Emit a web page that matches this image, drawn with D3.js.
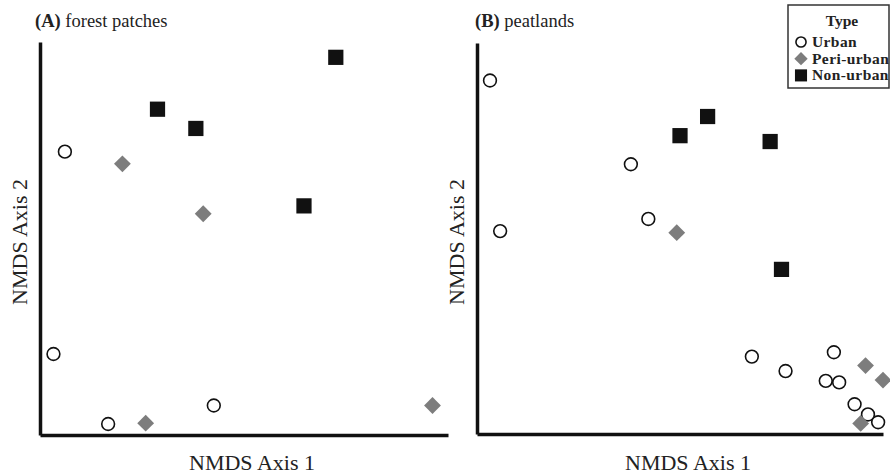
<!DOCTYPE html>
<html>
<head>
<meta charset="utf-8">
<script src="https://cdn.jsdelivr.net/npm/d3@7"></script>
<style>
  body { margin: 0; background: #fff; }
  text { font-family: "Liberation Serif", "Times New Roman", serif; }
</style>
</head>
<body>
<svg width="890" height="475"></svg>
<script>
// NMDS scores (axis units 0-100, no ticks shown)
var forestUrban    = [[6.1, 72.1], [3.3, 20.6], [16.7, 2.8], [42.6, 7.5]];
var forestPeri     = [[20.2, 69.0], [40.0, 56.3], [25.9, 3.0], [96.2, 7.5]];
var forestNonUrban = [[72.5, 96.1], [28.8, 82.9], [38.2, 78.0], [64.7, 58.3]];

var peatUrban    = [[3.2, 90.4], [5.7, 51.9], [37.9, 69.0], [42.2, 55.0], [67.7, 19.8], [76.0, 16.1],
                    [87.9, 20.9], [85.9, 13.6], [89.2, 13.2], [93.0, 7.6], [96.3, 5.0], [98.8, 3.0]];
var peatPeri     = [[49.2, 51.5], [95.7, 17.5], [100, 13.8], [94.5, 2.7]];
var peatNonUrban = [[50.0, 76.3], [56.8, 81.2], [72.2, 74.8], [75.0, 42.1]];

var types = ["Urban", "Peri-urban", "Non-urban"];

var svg = d3.select("svg");

// draws one marker of the given type at (cx, cy), s = marker width
function marker(g, type, cx, cy, s) {
  if (type == "Urban") {
    g.append("circle").attr("cx", cx).attr("cy", cy).attr("r", s * 0.44)
      .attr("fill", "#fff").attr("stroke", "#111").attr("stroke-width", 1.6);
  } else if (type == "Peri-urban") {
    var h = s * 0.58;
    g.append("path")
      .attr("d", d3.line()([[cx, cy - h], [cx + h, cy], [cx, cy + h], [cx - h, cy]]) + "Z")
      .attr("fill", "#7d7d7d");
  } else {
    var w = s * 1.05;
    g.append("rect").attr("x", cx - w / 2).attr("y", cy - w / 2)
      .attr("width", w).attr("height", w).attr("fill", "#111");
  }
}

function drawPanel(opt) {
  var x = d3.scaleLinear().domain([0, 100]).range([opt.left, opt.right]);
  var y = d3.scaleLinear().domain([0, 100]).range([opt.bottom, opt.top]);
  var g = svg.append("g");

  // axes: plain thick lines, no ticks
  g.append("g").attr("transform", "translate(0," + opt.bottom + ")")
    .call(d3.axisBottom(x).ticks(0).tickSizeOuter(0))
    .select(".domain").attr("stroke", "#111").attr("stroke-width", 3.5);
  g.append("g").attr("transform", "translate(" + opt.left + ",0)")
    .call(d3.axisLeft(y).ticks(0).tickSizeOuter(0))
    .select(".domain").attr("stroke", "#111").attr("stroke-width", 3.5);

  var title = g.append("text").attr("x", opt.titleX).attr("y", 27)
    .attr("font-size", 18.5).attr("fill", "#222");
  title.append("tspan").attr("font-weight", "bold").text(opt.tag + " ");
  title.append("tspan").text(opt.title);

  g.append("text").attr("x", (opt.left + opt.right) / 2 + 8).attr("y", 470)
    .attr("text-anchor", "middle").attr("font-size", 22).attr("fill", "#222")
    .text("NMDS Axis 1");
  g.append("text").attr("transform", "translate(" + (opt.left - 13) + "," + 242 + ") rotate(-90)")
    .attr("text-anchor", "middle").attr("font-size", 22).attr("fill", "#222")
    .text("NMDS Axis 2");

  opt.series.forEach(function (s, i) {
    s.forEach(function (d) {
      marker(g, types[i], x(d[0]), y(d[1]), 14.5);
    });
  });
}

drawPanel({ left: 40, right: 448, top: 42, bottom: 435, titleX: 35, tag: "(A)", title: "forest patches",
  series: [forestUrban, forestPeri, forestNonUrban] });
drawPanel({ left: 477, right: 883, top: 43, bottom: 434, titleX: 475, tag: "(B)", title: "peatlands",
  series: [peatUrban, peatPeri, peatNonUrban] });

// Legend
var lg = svg.append("g").attr("transform", "translate(788,5)");
lg.append("rect").attr("width", 101).attr("height", 83)
  .attr("fill", "#fff").attr("stroke", "#333").attr("stroke-width", 1.5);
lg.append("text").attr("x", 54).attr("y", 21).attr("text-anchor", "middle")
  .attr("font-size", 15.5).attr("font-weight", "bold").attr("fill", "#222").text("Type");
types.forEach(function (t, i) {
  var cy = 37 + i * 16.7;
  marker(lg, t, 13, cy, 11.5);
  lg.append("text").attr("x", 24).attr("y", cy + 5).attr("font-size", 15.5)
    .attr("font-weight", "bold").attr("letter-spacing", 0.4).attr("fill", "#222").text(t);
});
</script>
</body>
</html>
